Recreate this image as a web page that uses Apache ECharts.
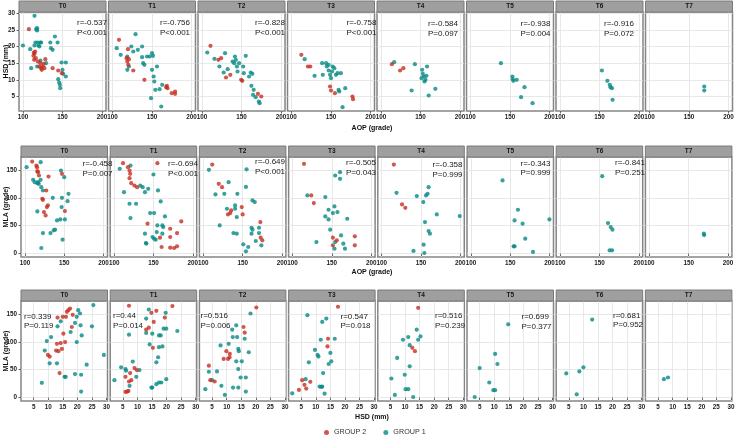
<!DOCTYPE html>
<html>
<head>
<meta charset="utf-8">
<script src="https://cdn.jsdelivr.net/npm/echarts@6/dist/echarts.min.js"></script>
<style>html,body{margin:0;padding:0;background:#fff}#c{width:738px;height:440px}</style>
</head>
<body>
<div id="c"></div>
<script>
// ---------- categories & ticks ----------
const facets = ['T0','T1','T2','T3','T4','T5','T6','T7'];
const aopTicks = [100,150,200];
const hsdTicks = [5,10,15,20,25,30];
const mlaTicks = [0,50,100,150];
const groupNames = ['GROUP 2','GROUP 1'];

// ---------- row 1: AOP (x) vs HSD (y) ----------
const aopHsdGroup2 = [
  [[107.5,25.2],[113.8,18.2],[114.6,17.8],[115.4,18.5],[113.3,17.2],[114.2,16],[116.3,16.5],[118.8,15.5],[120.8,14],[122.9,13.5],[123.8,13],[125,14],[126.3,14.8],[127.1,13.5],[128.3,16.2],[122.1,15],[137.5,13.5],[144.6,12.8],[149.2,12]],
  [[108.3,22],[117.9,16.5],[118.8,15.5],[119.6,19.2],[120,14.5],[120.8,16.2],[126.3,12.8],[140.4,10],[167.9,7.8],[168.8,8.2],[169.6,7.5],[175,6],[179.2,6.5],[179.2,5.8]],
  [[110.8,20.2],[120.8,16],[124.2,16.5],[130.4,10.7],[135.8,11.5],[149.6,10],[151,9.7],[170.8,5.8],[175,5]],
  [[112.5,17.5],[120.8,14],[123.8,14],[148.8,8],[150,6.8],[155,6],[177.1,5],[177.9,4.2]],
  [[113.8,14.7],[124.2,12.8],[128.3,13.5]],
  [], [], []
];
const aopHsdGroup1 = [
  [[100,20.3],[109.2,19.2],[110.4,13.5],[114.6,29.2],[114.6,20.3],[115.8,21.2],[116.7,25.2],[117.9,25.5],[117.9,24.8],[118.8,21.2],[119.6,20.3],[122.1,21.2],[122.9,21.2],[120.8,20],[122.1,15.8],[129.2,15],[134.6,21.2],[135.4,19.5],[137.5,19],[140.4,23],[143.8,21.2],[148.8,15.2],[154.2,15.2],[150,13],[150.8,11.8],[144.6,10.2],[145.8,9.2],[146.7,8.5],[147.1,7.5],[154.2,11],[117.9,14]],
  [[105.4,19.5],[110.4,17.5],[118.8,17],[118.8,13],[120.8,14],[123.8,20],[129.2,23.7],[126.3,18.5],[132.1,19],[137.5,20],[138.8,15],[140.4,14.5],[137.5,16.8],[143.8,17],[147.1,17],[150,18],[151.3,17.2],[152.1,11],[152.9,9.5],[150,13],[148.8,4.5],[154.2,7],[156.3,14],[159.6,7.2],[161.7,2],[162.9,8.5]],
  [[106.7,18.2],[115.8,16.3],[122.1,14],[127.5,12.2],[129.2,18],[132.5,13.2],[138.8,15.5],[140.8,15],[141.7,17],[142.9,16],[144.2,14],[145,12.5],[147,15],[152.1,14],[152.9,12],[155.4,17.2],[159.6,11],[161.7,12.2],[163.7,11.8],[162.5,8.2],[165.4,7],[164.6,5.5],[167.9,4.8],[172,3.5],[172.9,3]],
  [[116.7,16.2],[129.2,11.2],[138.8,15],[143.8,15],[144.6,14],[139.6,11.5],[147.1,12.8],[148.8,11.5],[150,10.5],[151.3,12.5],[152.1,14],[154.2,13.5],[156.3,11.5],[158.3,12],[162.5,12],[159.6,7],[160.4,6.5],[168,7.5],[164.6,1.8],[147,14.5]],
  [[116.7,15.3],[142.9,14.7],[152.1,13],[152.9,11.8],[154.2,11],[151.3,10.5],[156.3,10],[158.3,14],[157.5,11.2],[155,9.5],[138.8,6.8],[168.8,7.3],[160.4,5.3]],
  [[138.5,15],[153,11],[153.4,10.2],[154.3,9.7],[158.5,10],[168.3,7.8],[164,4.8],[178.5,3]],
  [[153,12.8],[160,9.7],[163,8.5],[163.9,7.8],[165.7,7.5],[166.5,4]],
  [[169.3,8],[169.3,6.8]]
];
const aopHsdStats = [
  ['r=-0.537','P<0.001'],['r=-0.756','P<0.001'],['r=-0.828','P<0.001'],['r=-0.758','P<0.001'],
  ['r=-0.584','P=0.097'],['r=-0.938','P=0.004'],['r=-0.916','P=0.072'],null
];

// ---------- row 2: AOP (x) vs MLA (y) ----------
const aopMlaGroup2 = [
  [[109.2,164.9],[114.6,157.7],[115.4,154.8],[115.8,147.6],[116.7,145.8],[117.9,139.9],[130,138],[127.1,113],[122.1,98.2],[122.9,96.4],[129.2,86.3],[127.9,83.3],[124.2,74.4],[126.3,68.5],[147.1,142.9],[150.8,76.2]],
  [[111.3,161.9],[117.5,154.8],[119.6,148.8],[120.4,142.9],[119.6,135.1],[121.7,126.2],[125.8,122],[129.2,119],[155,161.9],[142.5,53.6],[158.3,28.6],[160.4,11.9],[171.3,44.6],[171.3,29.8],[171.3,10.7],[176.3,10.1],[180,36.9],[180,13.1],[185.4,57.7]],
  [[111.3,159.5],[119.6,125],[123.8,119],[131.3,70.2],[135.4,77.4],[134.2,72.6],[148.8,83.3],[150,70.2],[172.5,56.5],[172.9,28.6],[175,23.8]],
  [[114.6,160.7],[123.8,104.2],[127.1,90.5],[151.3,28.6],[156.3,23.8],[151.3,14.9],[179.2,31],[179.2,14.9]],
  [[115.4,159.5],[125.8,88.1],[130,82.1]],
  [], [], []
];
const aopMlaGroup1 = [
  [[102.1,154.8],[120,163.7],[110.4,132.1],[112.5,128],[115.8,126.2],[116.7,128],[117.5,125],[120,132.1],[120.8,119],[122.9,113],[115.8,75.6],[135.4,100],[145.8,148.8],[150,136.9],[155.4,107.1],[154.2,94],[147.1,100],[146.7,83.3],[140.8,59.5],[145,61.3],[150.8,61.3],[136.7,41.7],[138.3,42.9],[132.5,36.9],[122.9,36.9],[147.9,25],[120.8,10.1]],
  [[107.1,151.8],[112.5,110.1],[120.8,157.7],[119.6,89.3],[120.8,63.7],[127.9,89.3],[133.3,122],[136.3,119],[139.2,110.1],[143.3,116],[150,141.7],[155.8,113.1],[145.8,72.6],[150.8,72.6],[159.2,93.5],[139.2,35.7],[140.4,19],[141,18],[148.8,29.8],[150.8,26.8],[152.9,25],[154.2,38.7],[155,50.6],[161.3,50.6],[162.5,47.6],[164.6,66.7],[161.3,35.7]],
  [[107.1,150],[115.4,106],[126.7,107],[132.1,128],[130,80.4],[120.8,50.6],[140.4,86.3],[140.4,80.4],[142.5,65.5],[138.3,36.9],[142.5,35.7],[143.3,107],[155,151],[154.2,119.5],[162.5,95.2],[165.4,92.3],[161.3,46.4],[162.5,42.9],[161.3,35.7],[166.7,22.6],[170.8,46.4],[170.8,36.9],[173.8,14.9],[157.1,11.9],[154.2,4.2],[150.8,16.7]],
  [[118.8,104.2],[130.4,20.8],[141.7,101.2],[145.8,78.6],[151.3,72.6],[153.3,84.5],[157.1,74.4],[141.7,66.7],[145.8,61.3],[147.9,42.9],[154.2,139.9],[160.4,145.8],[160.4,133.9],[169.6,62.5],[161.7,32.7],[164.6,17.9],[166.7,8.9],[153.3,8.9],[154.2,20.8]],
  [[118.8,108.9],[144.6,103],[156.3,104.2],[159.6,119],[158.3,107.1],[152.9,92.3],[170,70.2],[199.2,67.3],[155,56.5],[159.6,40.5],[161.3,35.7],[140.4,4.8],[153.3,16.1],[154.2,1.2]],
  [[140.2,131],[159.8,78.6],[155.5,59.5],[165.7,53.6],[199.8,61.3],[169.1,26.8],[154.3,13.1],[155.5,13.1],[178.9,3]],
  [[153.5,138.7],[160.9,54.8],[164.3,47.6],[166.5,42.9],[163,6],[166.1,6]],
  [[169.3,35.7],[169.7,33.3]]
];
const aopMlaStats = [
  ['r=-0.458','P=0.007'],['r=-0.694','P<0.001'],['r=-0.649','P<0.001'],['r=-0.505','P=0.043'],
  ['r=-0.358','P=0.999'],['r=-0.343','P=0.999'],['r=-0.841','P=0.251'],null
];

// ---------- row 3: HSD (x) vs MLA (y) ----------
const hsdMlaGroup2 = [
  [[9.9,76.5],[10.5,73.5],[13,96.4],[13.2,143.4],[12.7,84.3],[13.5,83.1],[13.9,44],[14.3,97.6],[14.7,87.3],[15.2,114.5],[15,144.6],[16.1,144.6],[16.4,153.6],[16.9,156.6],[17.5,159.6],[18.1,126.5],[18.4,148.2],[15.8,99.4]],
  [[5.9,10.2],[6.5,10.8],[6.9,12],[5.9,37.3],[7.1,28.9],[7.9,31.3],[7.5,44],[9,53],[9.8,49.4],[7.1,164.5],[13,121.7],[13.9,125.3],[15.3,89.2],[14.8,151.8],[15.6,135.5],[16.5,155.4],[19.4,143.4],[22,163.9]],
  [[3.9,57.2],[4.4,31.3],[5.9,28.9],[9,69.3],[9.9,83.1],[10.5,69.3],[11.1,78.3],[11,72.3],[15.8,126.5],[16.2,116.3],[20.2,161.4]],
  [[17.6,162.7],[14.2,105.4],[14,91.6],[5.3,31.3],[4.2,13.9],[6.1,22.9],[6.7,16.3],[8.1,28.3]],
  [[14.5,160.8],[12.5,89.2],[13.4,83.1]],
  [], [], []
];
const hsdMlaGroup1 = [
  [[7.8,26.5],[8.8,84.3],[9.5,101.2],[11,108.4],[10.5,61.4],[13,61.4],[13.2,127.7],[14.3,136.7],[15.6,37.3],[16,37.3],[17.7,117.5],[19.2,133.7],[19.8,99.4],[20.3,156.6],[20.9,150.6],[21.1,129.5],[21.5,111.4],[19.2,42.2],[21.3,41],[21.3,10.8],[23.2,59],[25,127.7],[25.5,165.7],[29.1,76.5],[19.8,144.6]],
  [[2.1,31.3],[4.4,54.2],[5.9,51.2],[6.1,48.2],[7.3,21.1],[8.4,64.5],[9.6,37.3],[10.7,49.4],[7.1,112.7],[13,141.6],[13,115.7],[13.9,157.8],[14.2,95.2],[15.1,114.5],[14.8,18.1],[15.1,18.1],[16.5,24.1],[17.4,27.1],[18.2,27.1],[16.5,63.3],[17.1,72.3],[17.4,111.4],[18,111.4],[17.4,90.4],[18.6,91.6],[19,123.5],[19.9,123.5],[19.7,151.8],[19.9,33.1],[23.7,119.3]],
  [[3.9,46.4],[2.7,15.1],[5,31.3],[6.7,47],[7.9,93.4],[8.2,21.1],[9.4,4.8],[10.7,96.4],[11.9,121.7],[12.1,108.4],[13.3,129.5],[13.6,108.4],[14,87.3],[14.2,83.1],[13.3,65.1],[14,51.2],[12.2,18.1],[14,18.1],[14.8,36.1],[18.2,150.6],[16.2,105.4],[17.6,81.3],[15.2,65.1],[16.6,36.1],[16.6,10.8]],
  [[7.1,147.6],[12.2,135.5],[13.6,141.6],[11.7,103.6],[16.5,105.4],[9.7,85.5],[10.6,76.5],[10.9,73.5],[15,80.1],[15.3,65.1],[14.4,60.2],[7.6,63.3],[12.5,44],[6.5,33.1],[11.3,19.9],[12.2,19.9],[11.9,19.3],[1.9,7.8],[13,7.2]],
  [[9.3,103.6],[11.1,108.4],[14,121.7],[14.5,103.6],[15.3,109.6],[11.6,94],[7.3,71.1],[11.6,56],[9.9,41],[5.3,34.3],[10.2,15.1],[11.1,15.1],[6.5,4.8],[12.8,1.2]],
  [[5,53],[3.3,1.2],[14.8,131.3],[10.3,78.3],[11.1,60.2],[8.3,27.1],[9.7,13.3],[10.3,13.3]],
  [[13,139.8],[4.1,43.4],[8.6,47],[10,54.2],[7.7,6]],
  [[7,33.1],[8.4,36.1]]
];
const hsdMlaStats = [
  ['r=0.339','P=0.119'],['r=0.44','P=0.014'],['r=0.516','P=0.006'],['r=0.547','P=0.018'],
  ['r=0.516','P=0.239'],['r=0.699','P=0.377'],['r=0.681','P=0.952'],null
];

// ---------- layout & style (not data) ----------
const COLORS = {g2:'#c42e22', g1:'#078983'};
const FONT = '"Liberation Sans Narrow","Liberation Sans",Arial,sans-serif';
const rows = [
  {top:12, height:99, left0:19, step:89.5, width:87,
   xMin:95, xMax:205, xTicks:aopTicks, yMin:0.65, yMax:30.35, yTicks:hsdTicks,
   g2:aopHsdGroup2, g1:aopHsdGroup1, stats:aopHsdStats,
   xTitle:'AOP (grade)', xTitleY:128, yTitle:'HSD (mm)',
   statPos:[[77,18.5],[160,18.5],[255,18.3],[346.5,18.5],[428,19.5],[520.5,19.5],[604,19.5]]},
  {top:157, height:100, left0:21, step:89.2, width:86.5,
   xMin:95, xMax:205, xTicks:aopTicks, yMin:-6, yMax:173, yTicks:mlaTicks,
   g2:aopMlaGroup2, g1:aopMlaGroup1, stats:aopMlaStats,
   xTitle:'AOP (grade)', xTitleY:272, yTitle:'MLA (grade)',
   statPos:[[82.5,159.5],[168,159.5],[255,157.5],[346,158.5],[432.5,160.5],[520.5,159],[615,158.5]]},
  {top:301, height:100, left0:21, step:89.2, width:86.5,
   xMin:0.65, xMax:30.35, xTicks:hsdTicks, yMin:-6, yMax:173, yTicks:mlaTicks,
   g2:hsdMlaGroup2, g1:hsdMlaGroup1, stats:hsdMlaStats,
   xTitle:'HSD (mm)', xTitleY:417, yTitle:'MLA (grade)',
   statPos:[[24,311.8],[113,311.5],[200.5,311.5],[340.5,311.8],[435,311.5],[521.5,312.5],[613,310.8]]}
];

const option = {
  animation:false,
  backgroundColor:'#fff',
  grid:[], xAxis:[], yAxis:[], series:[], graphic:[],
  legend:{
    data:[{name:groupNames[0], icon:'circle'},{name:groupNames[1], icon:'circle'}],
    left:324, top:429, itemWidth:5, itemHeight:5, itemGap:17, padding:0,
    textStyle:{fontSize:7.2, color:'#333', fontFamily:'"Liberation Sans",Arial,sans-serif'},
    selectedMode:false
  }
};

const gridLine = {show:true, lineStyle:{color:'#e2e2e2', width:0.8}};
const labelStyle = {fontSize:6.3, fontWeight:'bold', color:'#1a1a1a', fontFamily:FONT};

rows.forEach((row, r) => {
  facets.forEach((f, i) => {
    const idx = r*8 + i;
    const left = row.left0 + i*row.step;
    option.grid.push({left:left, top:row.top, width:row.width, height:row.height,
      show:true, borderColor:'#858585', borderWidth:1.5, backgroundColor:'#fff'});
    option.xAxis.push({type:'value', gridIndex:idx, min:row.xMin, max:row.xMax,
      axisLine:{show:false},
      axisTick:{show:true, customValues:row.xTicks, length:2.5, lineStyle:{color:'#444', width:0.8}},
      axisLabel:Object.assign({show:true, customValues:row.xTicks, margin:3}, labelStyle),
      splitLine:gridLine});
    option.yAxis.push({type:'value', gridIndex:idx, min:row.yMin, max:row.yMax,
      axisLine:{show:false},
      axisTick:{show:i===0, customValues:row.yTicks, length:2.5, lineStyle:{color:'#444', width:0.8}},
      axisLabel:Object.assign({show:i===0, customValues:row.yTicks, margin:4}, labelStyle),
      splitLine:gridLine});
    option.series.push({type:'scatter', name:groupNames[1], xAxisIndex:idx, yAxisIndex:idx,
      data:row.g1[i], symbolSize:4.2, itemStyle:{color:COLORS.g1}, silent:true});
    option.series.push({type:'scatter', name:groupNames[0], xAxisIndex:idx, yAxisIndex:idx,
      data:row.g2[i], symbolSize:4.2, itemStyle:{color:COLORS.g2}, silent:true});
    // strip
    option.graphic.push({type:'rect', z:50, silent:true,
      shape:{x:left, y:row.top-11, width:row.width, height:11},
      style:{fill:'#9f9f9f', stroke:'#7a7a7a', lineWidth:1}});
    option.graphic.push({type:'text', z:51, silent:true, x:left + row.width/2, y:row.top-5.5,
      style:{text:f, font:'bold 6.5px ' + FONT, fill:'#161616', align:'center', verticalAlign:'middle'}});
    // annotation
    const s = row.stats[i];
    if (s) {
      const p = row.statPos[i];
      option.graphic.push({type:'text', z:60, silent:true, x:p[0], y:p[1],
        style:{text:s[0] + '\n' + s[1], font:'8px "Liberation Sans",Arial,sans-serif', fill:'#1a1a1a',
          lineHeight:9.4, verticalAlign:'top', align:'left'}});
    }
  });
  // axis titles
  option.graphic.push({type:'text', z:60, silent:true, x:372, y:row.xTitleY,
    style:{text:row.xTitle, font:'bold 7px ' + FONT, fill:'#111', align:'center', verticalAlign:'middle'}});
  option.graphic.push({type:'text', z:60, silent:true, x:6.5, y:row.top + row.height/2,
    rotation:Math.PI/2,
    style:{text:row.yTitle, font:'bold 7px ' + FONT, fill:'#111', align:'center', verticalAlign:'middle'}});
});

const chart = echarts.init(document.getElementById('c'), null, {renderer:'canvas'});
chart.setOption(option);
</script>
</body>
</html>
